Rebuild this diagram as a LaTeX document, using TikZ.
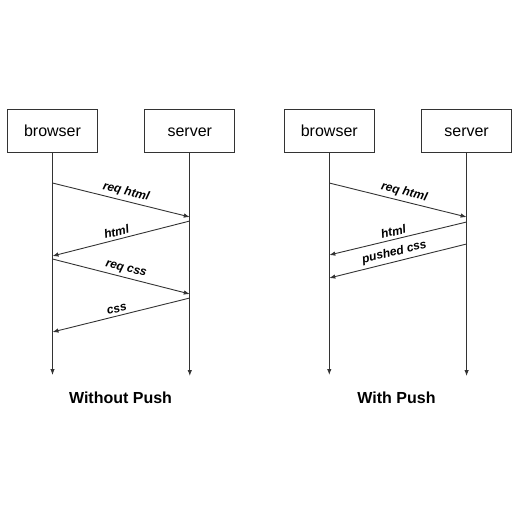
\documentclass[tikz,border=0pt]{standalone}
\usepackage{fontspec}
\setmainfont{Liberation Sans}
\usetikzlibrary{positioning,arrows.meta}
\tikzset{>={Latex[length=6pt,width=4.5pt]}}
\definecolor{linegray}{HTML}{333333}

\begin{document}
\begin{tikzpicture}[x=1pt,y=-1pt,
	actor/.style={draw=linegray,line width=0.8pt,minimum width=90pt,minimum height=43pt,inner sep=0pt,text height=12pt,text depth=0pt,font=\fontsize{16}{19}\selectfont},
	msg/.style={->,draw=linegray,line width=0.9pt},
	msglabel/.style={font=\bfseries\itshape\fontsize{12}{14}\selectfont,above,sloped,inner sep=3pt},
	caption/.style={font=\bfseries\fontsize{16}{19}\selectfont,anchor=base}]
	\useasboundingbox (0,0) rectangle (512,512);

	% without push
	\node [actor] (browserA) at (52.5,130.5) {browser};
	\node [actor,right=46.5pt of browserA] (serverA) {server};
	\coordinate (endBA) at (browserA |- 0,375);
	\coordinate (endSA) at (serverA |- 0,376);
	\draw [msg] (browserA.south) -- (endBA);
	\draw [msg] (serverA.south) -- (endSA);

	\draw [msg] (browserA |- 0,183) -- node [msglabel,pos=0.52] {req html} (serverA |- 0,217);
	\draw [msg] (serverA |- 0,221) -- node [msglabel,pos=0.52] {html} (browserA |- 0,256);
	\draw [msg] (browserA |- 0,259) -- node [msglabel,pos=0.52] {req css} (serverA |- 0,294);
	\draw [msg] (serverA |- 0,298) -- node [msglabel,pos=0.52] {css} (browserA |- 0,332);

	\node [caption] (titleA) at (120.5,403) {Without Push};

	% with push
	\node [actor,right=186pt of browserA] (browserB) {browser};
	\node [actor,right=46.5pt of browserB] (serverB) {server};
	\coordinate (endBB) at (browserB |- 0,375);
	\coordinate (endSB) at (serverB |- 0,376);
	\draw [msg] (browserB.south) -- (endBB);
	\draw [msg] (serverB.south) -- (endSB);

	\draw [msg] (browserB |- 0,183) -- node [msglabel,pos=0.53] {req html} (serverB |- 0,217);
	\draw [msg] (serverB |- 0,222) -- node [msglabel,pos=0.52] {html} (browserB |- 0,255);
	\draw [msg] (serverB |- 0,244) -- node [msglabel,pos=0.51] {pushed css} (browserB |- 0,278);

	\node [caption] (titleB) at (396.5,403) {With Push};
\end{tikzpicture}
\end{document}
